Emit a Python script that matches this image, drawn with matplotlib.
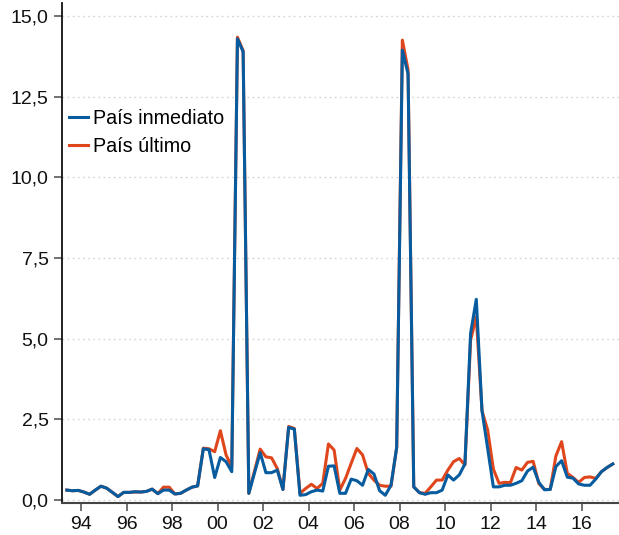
import numpy as np
import matplotlib
matplotlib.use("Agg")
import matplotlib.pyplot as plt

# quarterly series, 1993Q2 .. 2017Q2
start_year = 1993.375  # mid of 1993Q2
inmediato = [
    0.31, 0.29, 0.30, 0.25, 0.18, 0.31, 0.43, 0.37, 0.24, 0.11,
    0.24, 0.24, 0.26, 0.25, 0.27, 0.34, 0.20, 0.31, 0.31, 0.19,
    0.21, 0.31, 0.40, 0.44, 1.59, 1.56, 0.70, 1.32, 1.19, 0.88,
    14.29, 13.89, 0.21, 0.84, 1.47, 0.85, 0.85, 0.93, 0.33, 2.25,
    2.20, 0.15, 0.17, 0.26, 0.31, 0.28, 1.05, 1.06, 0.21, 0.21,
    0.65, 0.60, 0.46, 0.95, 0.81, 0.29, 0.15, 0.46, 1.63, 13.94,
    13.20, 0.41, 0.23, 0.18, 0.23, 0.23, 0.31, 0.78, 0.62, 0.78,
    1.12, 5.17, 6.22, 2.77, 1.60, 0.41, 0.41, 0.46, 0.46, 0.52,
    0.60, 0.90, 1.02, 0.55, 0.32, 0.33, 1.04, 1.22, 0.71, 0.68,
    0.50, 0.46, 0.46, 0.65, 0.88, 1.01, 1.12,
]
ultimo = [
    0.31, 0.29, 0.30, 0.25, 0.18, 0.31, 0.43, 0.37, 0.24, 0.11,
    0.24, 0.24, 0.25, 0.25, 0.27, 0.34, 0.20, 0.40, 0.40, 0.19,
    0.21, 0.31, 0.40, 0.44, 1.61, 1.59, 1.50, 2.15, 1.40, 1.03,
    14.34, 13.92, 0.21, 0.90, 1.58, 1.34, 1.31, 0.98, 0.33, 2.28,
    2.22, 0.21, 0.36, 0.49, 0.36, 0.52, 1.74, 1.55, 0.31, 0.67,
    1.14, 1.60, 1.40, 0.83, 0.62, 0.46, 0.43, 0.43, 1.63, 14.25,
    13.33, 0.41, 0.23, 0.21, 0.41, 0.62, 0.62, 0.93, 1.19, 1.29,
    1.09, 4.96, 5.68, 2.77, 2.17, 0.96, 0.52, 0.55, 0.54, 1.01,
    0.93, 1.17, 1.20, 0.51, 0.33, 0.33, 1.37, 1.81, 0.83, 0.70,
    0.55, 0.70, 0.72, 0.67, 0.88, 1.01, 1.12,
]
x_ticks = list(range(1994, 2017, 2))
x_labels = [f"{y % 100:02d}" for y in x_ticks]
y_ticks = [0, 2.5, 5, 7.5, 10, 12.5, 15]
y_labels = [f"{v:.1f}".replace(".", ",") for v in y_ticks]

blue = "#065c9f"
orange = "#e0461b"

plt.rcParams['font.family'] = ['Liberation Sans', 'DejaVu Sans']

x = start_year + 0.25 * np.arange(len(inmediato))

fig = plt.figure(figsize=(6.19, 5.35), dpi=100)
ax = fig.add_axes([0.0997, 0.0604, 0.9, 0.934])

ax.plot(x, ultimo, color=orange, lw=2.2, label="País último", zorder=2)
ax.plot(x, inmediato, color=blue, lw=2.2, label="País inmediato", zorder=3)

ax.set_xlim(1993.15, 2017.64)
ax.set_ylim(-0.08, 15.4)
ax.set_xticks(x_ticks)
ax.set_xticklabels(x_labels)
ax.set_yticks(y_ticks)
ax.set_yticklabels(y_labels)

ax.grid(axis='y', linestyle=(0, (1.2, 2.5)), color='#d4d4d4', lw=1)
ax.set_axisbelow(True)

for s in ['top', 'right']:
    ax.spines[s].set_visible(False)
ax.spines['left'].set_color('#111111')
ax.spines['left'].set_linewidth(1.3)
ax.spines['bottom'].set_color('#444444')
ax.spines['bottom'].set_linewidth(1.5)
ax.tick_params(axis='both', labelsize=14, colors='#666666', labelcolor='#111111',
               length=6, width=1.3)

h, l = ax.get_legend_handles_labels()
ax.legend(h[::-1], l[::-1], loc='upper left', bbox_to_anchor=(0.013, 0.788),
          frameon=False, fontsize=14.2, handlelength=0.95, handletextpad=0.25,
          labelspacing=0.48, borderpad=0, borderaxespad=0)

fig.savefig("out.png", dpi=100)
